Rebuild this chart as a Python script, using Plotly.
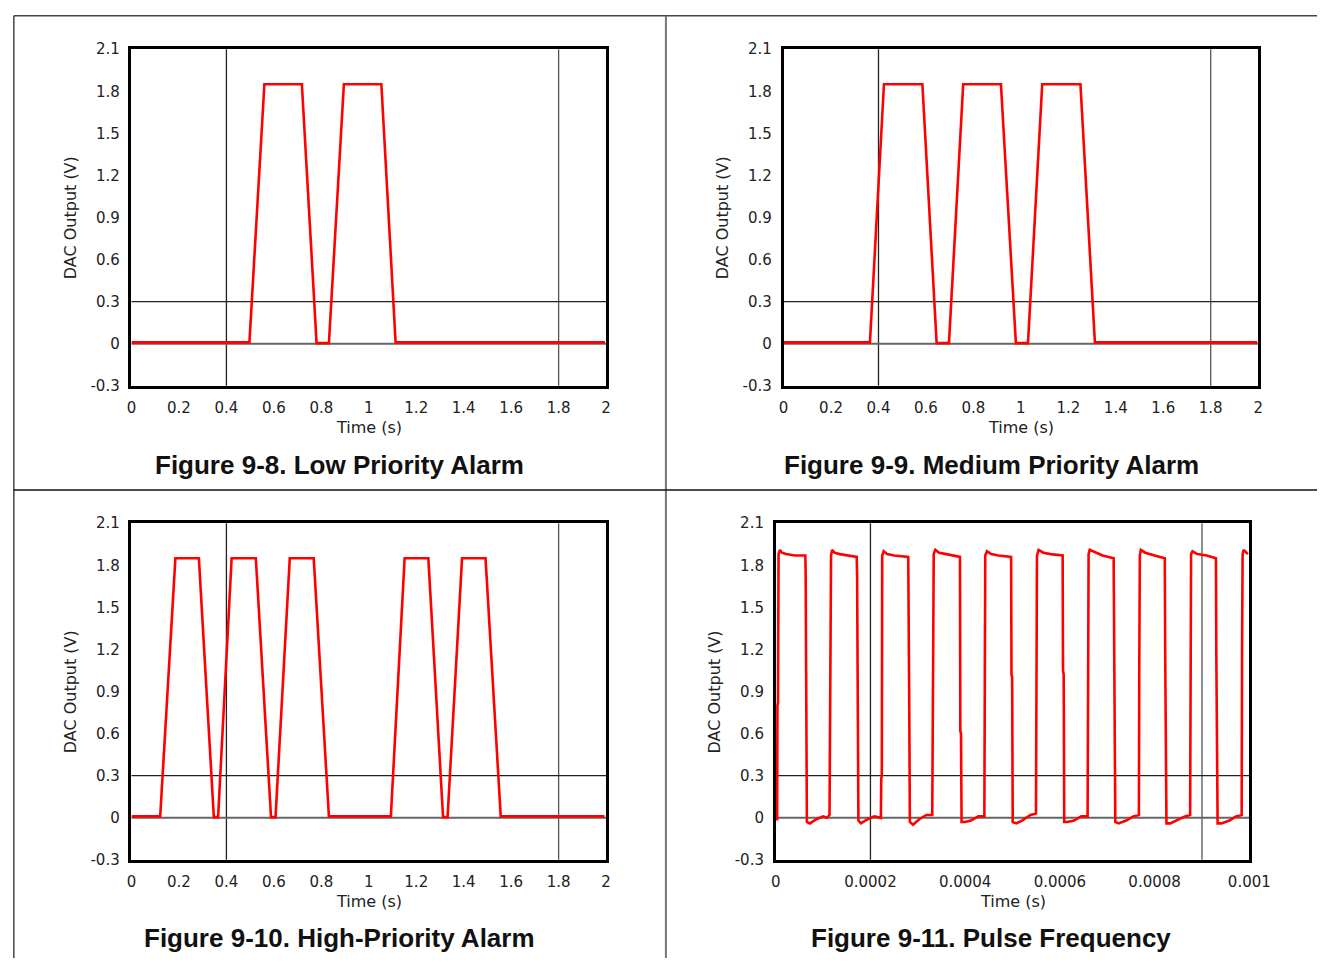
import plotly.graph_objects as go

# ---------------- data ----------------
# Figure 9-8 Low priority alarm
low_t = [0.0, 0.497, 0.560, 0.718, 0.780, 0.832, 0.895, 1.053, 1.113, 1.995]
low_v = [0.01, 0.01, 1.85, 1.85, 0.005, 0.005, 1.85, 1.85, 0.01, 0.01]

# Figure 9-9 Medium priority alarm
med_t = [0.0, 0.364, 0.423, 0.585, 0.645, 0.697, 0.757, 0.916, 0.979, 1.030,
         1.090, 1.251, 1.312, 1.996]
med_v = [0.01, 0.01, 1.85, 1.85, 0.005, 0.005, 1.85, 1.85, 0.005, 0.005,
         1.85, 1.85, 0.01, 0.01]

# Figure 9-10 High priority alarm
high_t = [0.0, 0.121, 0.185, 0.284, 0.347, 0.365, 0.422, 0.524, 0.588, 0.607,
          0.667, 0.768, 0.832, 1.093, 1.151, 1.251, 1.313, 1.332, 1.393, 1.492,
          1.556, 1.993]
high_v = [0.01, 0.01, 1.85, 1.85, 0.005, 0.005, 1.85, 1.85, 0.005, 0.005,
          1.85, 1.85, 0.01, 0.01, 1.85, 1.85, 0.005, 0.005, 1.85, 1.85,
          0.01, 0.01]

# Figure 9-11 Pulse frequency (time in microseconds)
pulse_t_us = [0, 3.0, 3.6, 4.8, 6.0, 9, 13, 22, 40, 62.5, 63.2, 64.6, 65.8, 72, 86, 100, 108,
              113.6, 114.3, 115.6, 116.8, 119, 124, 135, 150, 171.0, 171.8, 173.0, 174.6, 180, 194, 208,
              222.0, 222.8, 224.0, 224.8, 228, 235, 250, 279.8, 280.6, 282.0, 283.2, 290, 303, 318,
              330.5, 331.3, 332.4, 333.6, 337, 345, 360, 389.0, 389.8, 391.2, 392.4, 400, 412, 428,
              440.5, 441.2, 442.4, 446, 455, 470, 497.0, 497.8, 499.2, 500.4, 508, 520, 538,
              549.5, 550.3, 551.6, 555, 565, 580, 605.8, 606.6, 608.0, 609.2, 616, 630, 645,
              658.5, 659.3, 660.6, 663, 675, 690, 713.5, 714.3, 715.7, 717.0, 724, 740, 755,
              766.8, 767.6, 768.8, 771, 780, 800, 821.5, 822.3, 823.7, 825.0, 833, 850, 864,
              875.0, 875.8, 877.0, 880, 890, 910, 929.5, 930.3, 931.7, 933.0, 941, 958, 972,
              983.8, 984.6, 985.8, 988, 994, 997]
pulse_v = [-0.01, -0.01, 0.80, 0.82, 1.88, 1.91, 1.89, 1.88, 1.87, 1.87, 1.76, 0.52, -0.03, -0.04, -0.01, 0.01, 0.0,
           0.02, 0.46, 0.50, 1.87, 1.91, 1.89, 1.88, 1.87, 1.86, 1.74, 0.52, -0.02, -0.04, -0.01, 0.01,
           0.0, 0.28, 0.30, 1.87, 1.90, 1.88, 1.87, 1.86, 0.78, 0.76, -0.03, -0.05, -0.01, 0.02,
           0.02, 0.62, 1.67, 1.88, 1.91, 1.89, 1.88, 1.86, 0.62, 0.60, -0.03, -0.03, -0.02, 0.01,
           0.01, 1.67, 1.87, 1.90, 1.88, 1.87, 1.86, 1.02, 1.00, -0.03, -0.04, -0.02, 0.02,
           0.03, 1.57, 1.87, 1.91, 1.89, 1.88, 1.87, 1.05, 1.02, -0.03, -0.03, -0.02, 0.01,
           0.01, 1.30, 1.88, 1.91, 1.89, 1.87, 1.85, 1.20, 0.45, -0.03, -0.04, -0.02, 0.01,
           0.02, 1.08, 1.87, 1.91, 1.89, 1.87, 1.85, 1.20, 0.45, -0.04, -0.04, -0.01, 0.01,
           0.02, 0.90, 1.88, 1.90, 1.88, 1.87, 1.85, 1.16, 0.48, -0.04, -0.04, -0.02, 0.01,
           0.02, 1.18, 1.88, 1.91, 1.89, 1.88]
pulse_t = [t * 1e-6 for t in pulse_t_us]

y_ticks = [-0.3, 0, 0.3, 0.6, 0.9, 1.2, 1.5, 1.8, 2.1]
y_labels = ["-0.3", "0", "0.3", "0.6", "0.9", "1.2", "1.5", "1.8", "2.1"]
x_ticks_s = [0, 0.2, 0.4, 0.6, 0.8, 1.0, 1.2, 1.4, 1.6, 1.8, 2.0]
x_labels_s = ["0", "0.2", "0.4", "0.6", "0.8", "1", "1.2", "1.4", "1.6", "1.8", "2"]
x_ticks_p = [0, 0.0002, 0.0004, 0.0006, 0.0008, 0.001]
x_labels_p = ["0", "0.0002", "0.0004", "0.0006", "0.0008", "0.001"]

titles = ["Figure 9-8. Low Priority Alarm", "Figure 9-9. Medium Priority Alarm",
          "Figure 9-10. High-Priority Alarm", "Figure 9-11. Pulse Frequency"]

# ---------------- layout ----------------
W, H = 1338, 967


def px_x(p):
    return p / W


def px_y(p):
    return 1 - p / H


# plot area pixel boxes: (left, right, top, bottom)
boxes = [(129, 613, 41, 384), (794, 1278, 41, 384), (129, 613, 524, 867), (786, 1269, 524, 867)]
series = [(low_t, low_v), (med_t, med_v), (high_t, high_v), (pulse_t, pulse_v)]
x_ranges = [[0, 2], [0, 2], [0, 2], [0, 0.001]]
vgrid = [[0.4, 1.8], [0.4, 1.8], [0.4, 1.8], [0.0002, 0.0009]]
title_cx = [341, 1006, 341, 1006]
title_cy = [465, 465, 947, 947]

fig = go.Figure()
TICKFONT = dict(family="DejaVu Sans, Arial, sans-serif", size=15, color="#222")
shapes = []
annotations = []

for i, ((l, r, t, b), (xs, ys)) in enumerate(zip(boxes, series)):
    n = "" if i == 0 else str(i + 1)
    xa, ya = "x" + n, "y" + n
    fig.add_trace(go.Scatter(x=xs, y=ys, mode="lines", xaxis=xa, yaxis=ya,
                             line=dict(color="#ff0000", width=2.6), showlegend=False,
                             hoverinfo="skip"))
    xt, xl = (x_ticks_p, x_labels_p) if i == 3 else (x_ticks_s, x_labels_s)
    fig.update_layout(**{
        "xaxis" + n: dict(domain=[px_x(l), px_x(r)], range=x_ranges[i], anchor=ya,
                          tickvals=xt, ticktext=xl, showgrid=False, zeroline=False,
                          showline=True, mirror=True, linecolor="#000", linewidth=2.5,
                          ticks="", ticklabelstandoff=6, tickfont=TICKFONT, fixedrange=True),
        "yaxis" + n: dict(domain=[px_y(b), px_y(t)], range=[-0.3, 2.1], anchor=xa,
                          tickvals=y_ticks, ticktext=y_labels, showgrid=False, zeroline=False,
                          showline=True, mirror=True, linecolor="#000", linewidth=2.5,
                          ticks="", ticklabelstandoff=6, tickfont=TICKFONT, fixedrange=True),
    })
    # inner grid lines
    for k, gx in enumerate(vgrid[i]):
        shapes.append(dict(type="line", xref=xa, yref=ya + " domain", x0=gx, x1=gx, y0=0, y1=1,
                           line=dict(color="#222" if k == 0 else "#555", width=1.3), layer="below"))
    shapes.append(dict(type="line", xref=xa + " domain", yref=ya, x0=0, x1=1, y0=0, y1=0,
                       line=dict(color="#666", width=2), layer="below"))
    shapes.append(dict(type="line", xref=xa + " domain", yref=ya, x0=0, x1=1, y0=0.3, y1=0.3,
                       line=dict(color="#222", width=1.2), layer="below"))
    # axis titles
    annotations.append(dict(text="Time (s)", xref="paper", yref="paper",
                            x=px_x((l + r) / 2), y=px_y(b + 42), showarrow=False,
                            font=dict(family="DejaVu Sans, Arial, sans-serif", size=16, color="#222"),
                            xanchor="center", yanchor="middle"))
    annotations.append(dict(text="DAC Output (V)", xref="paper", yref="paper",
                            x=px_x(l - 62), y=px_y((t + b) / 2), showarrow=False, textangle=-90,
                            font=dict(family="DejaVu Sans, Arial, sans-serif", size=16, color="#222"),
                            xanchor="center", yanchor="middle"))
    annotations.append(dict(text="<b>" + titles[i] + "</b>", xref="paper", yref="paper",
                            x=px_x(title_cx[i]), y=px_y(title_cy[i]), showarrow=False,
                            font=dict(family="Liberation Sans, Arial, sans-serif", size=26, color="#111"),
                            xanchor="center", yanchor="middle"))

# page frame lines
frame = dict(color="#444", width=1.5)
shapes += [
    dict(type="line", xref="paper", yref="paper", x0=px_x(9), x1=1, y0=px_y(7), y1=px_y(7), line=frame),
    dict(type="line", xref="paper", yref="paper", x0=px_x(9), x1=px_x(9), y0=px_y(7), y1=0, line=frame),
    dict(type="line", xref="paper", yref="paper", x0=px_x(674), x1=px_x(674), y0=px_y(7), y1=0,
         line=dict(color="#777", width=2)),
    dict(type="line", xref="paper", yref="paper", x0=px_x(9), x1=1, y0=px_y(490), y1=px_y(490),
         line=dict(color="#111", width=1.5)),
]

fig.update_layout(width=W, height=H, margin=dict(l=0, r=0, t=0, b=0),
                  paper_bgcolor="white", plot_bgcolor="white",
                  shapes=shapes, annotations=annotations, showlegend=False)

# remove the default page margin so the figure fills the window exactly
fig.write_html("out.html", config={"displayModeBar": False},
               post_script="document.body.style.margin='0';document.body.style.overflow='hidden';")
